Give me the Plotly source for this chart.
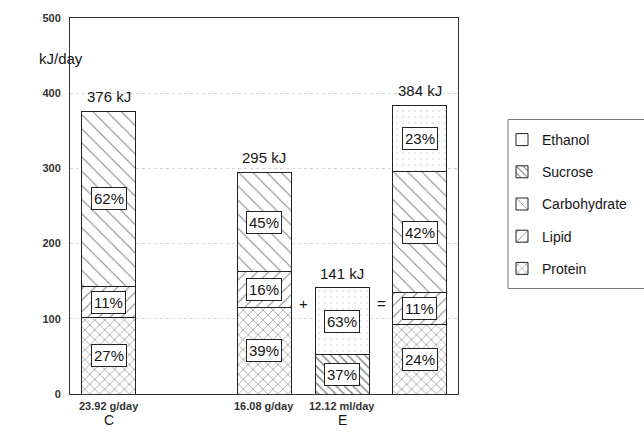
import plotly.graph_objects as go

# Daily energy intake per diet group, split by macronutrient source
bar_pos = [0, 2, 3, 4]                       # C, E (food), E (drink), E (total)
totals_kj = [376, 295, 141, 384]
intake_labels = ["23.92 g/day", "16.08 g/day", "12.12 ml/day"]
group_labels = ["C", "E"]

protein_pct = [27, 39, None, 24]
lipid_pct = [11, 16, None, 11]
carbohydrate_pct = [62, 45, None, 42]
sucrose_pct = [None, None, 37, None]
ethanol_pct = [None, None, 63, 23]

FONT = "Liberation Sans, Arial, sans-serif"
INK = "#151515"

components = [
    ("Protein", protein_pct, dict(shape="x", size=7, solidity=0.18, fgcolor="#111")),
    ("Lipid", lipid_pct, dict(shape="/", size=8, solidity=0.14, fgcolor="#111")),
    ("Carbohydrate", carbohydrate_pct, dict(shape="\\", size=10, solidity=0.11, fgcolor="#111")),
    ("Sucrose", sucrose_pct, dict(shape="\\", size=6, solidity=0.25, fgcolor="#111")),
    ("Ethanol", ethanol_pct, dict(shape=".", size=6, solidity=0.1, fgcolor="#c8c8c8")),
]

fig = go.Figure()
annotations = []
base = [0.0] * len(bar_pos)

for i, (name, pcts, pat) in enumerate(components):
    vals = [None if p is None else t * p / 100 for t, p in zip(totals_kj, pcts)]
    fig.add_trace(go.Bar(
        x=bar_pos, y=vals, name=name, width=0.695,
        legendgroup=name, legendrank=len(components) - i,
        marker=dict(color="white", line=dict(color="#222", width=1), pattern=pat),
        hoverinfo="skip",
    ))
    for j, (v, p) in enumerate(zip(vals, pcts)):
        if v is None:
            continue
        annotations.append(dict(
            x=bar_pos[j], y=base[j] + v / 2, text=f"{p}%", showarrow=False,
            font=dict(family=FONT, size=15, color=INK),
            bgcolor="white", bordercolor="#222", borderwidth=1, borderpad=2,
        ))
        base[j] += v

# Totals above each bar
for x, t in zip(bar_pos, totals_kj):
    annotations.append(dict(x=x, y=t, text=f"{t} kJ", showarrow=False, yanchor="bottom",
                            yshift=4, font=dict(family=FONT, size=15, color=INK)))

# "+" and "=" between the E bars
for x, s in [(2.5, "+"), (3.5, "=")]:
    annotations.append(dict(x=x, y=120, text=s, showarrow=False,
                            font=dict(family=FONT, size=15, color=INK)))

# Intake amounts and group letters under the axis
for x, s in zip(bar_pos[:3], intake_labels):
    annotations.append(dict(x=x, y=0, yref="y", text=f"<b>{s}</b>", showarrow=False,
                            yanchor="top", yshift=-4, font=dict(family=FONT, size=11, color="#333")))
for x, s in zip([0, 3], group_labels):
    annotations.append(dict(x=x, y=0, yref="y", text=s, showarrow=False,
                            yanchor="top", yshift=-16, font=dict(family=FONT, size=14, color=INK)))

annotations.append(dict(x=-0.085, xref="paper", y=446, yref="y", text="kJ/day", showarrow=False,
                        font=dict(family=FONT, size=15, color=INK)))

# Legend frame, open on the right side of the page
legend_frame = dict(type="rect", xref="paper", yref="paper",
                    x0=(508 - 70) / 388, x1=(660 - 70) / 388,
                    y0=(394 - 288) / 378, y1=(394 - 118) / 378,
                    line=dict(color="#777", width=1), fillcolor="rgba(0,0,0,0)", layer="above")

fig.update_layout(
    width=644, height=432,
    margin=dict(l=70, r=186, t=16, b=38),
    paper_bgcolor="white", plot_bgcolor="white",
    barmode="stack",
    showlegend=True,
    legend=dict(
        xref="container", yref="container",
        x=502 / 644, y=1 - 124 / 432, xanchor="left", yanchor="top",
        borderwidth=0, bgcolor="rgba(0,0,0,0)",
        font=dict(family=FONT, size=14, color=INK),
        tracegroupgap=11, itemwidth=30,
    ),
    shapes=[legend_frame],
    annotations=annotations,
    xaxis=dict(range=[-0.5, 4.49], showticklabels=False, ticks="", showgrid=False,
               zeroline=False, showline=True, linecolor="#333", linewidth=1, mirror=True),
    yaxis=dict(range=[0, 500], tickvals=[0, 100, 200, 300, 400, 500], ticks="",
               tickfont=dict(family=FONT, size=11, color="#333", weight="bold"),
               ticklabelstandoff=6,
               showgrid=True, gridcolor="#d6d6d6", griddash="dot", gridwidth=1,
               zeroline=False, showline=True, linecolor="#333", linewidth=1, mirror=True),
)

fig.write_html("out.html")
